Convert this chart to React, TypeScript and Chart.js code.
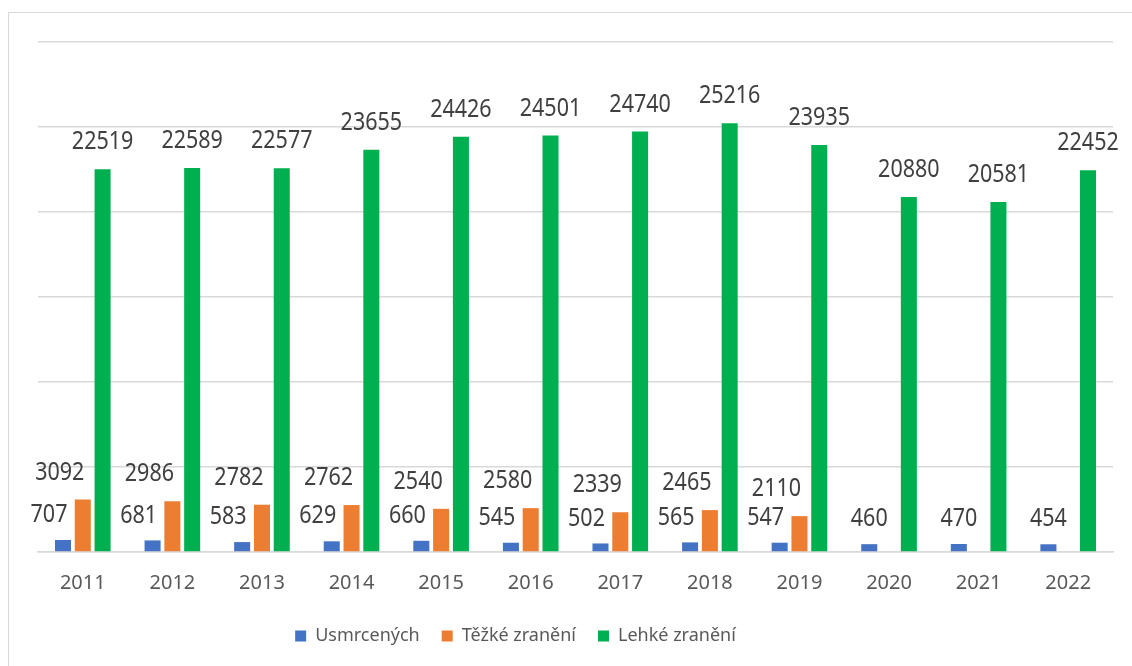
import React, { useEffect, useRef } from "react";
import { Chart, registerables } from "chart.js";

Chart.register(...registerables);

const years = ["2011", "2012", "2013", "2014", "2015", "2016", "2017", "2018", "2019", "2020", "2021", "2022"];
const usmrcenych = [707, 681, 583, 629, 660, 545, 502, 565, 547, 460, 470, 454];
const tezkeZraneni: (number | null)[] = [3092, 2986, 2782, 2762, 2540, 2580, 2339, 2465, 2110, null, null, null];
const lehkeZraneni = [22519, 22589, 22577, 23655, 24426, 24501, 24740, 25216, 23935, 20880, 20581, 22452];
const seriesNames = ["Usmrcených", "Těžké zranění", "Lehké zranění"];
const seriesColors = ["#4472C4", "#ED7D31", "#00B050"];

const FONT = '"Noto Sans", "Open Sans", sans-serif';

const valueLabels = {
  id: "valueLabels",
  afterDatasetsDraw(chart: any) {
    const ctx = chart.ctx;
    chart.data.datasets.forEach((ds: any, di: number) => {
      const meta = chart.getDatasetMeta(di);
      meta.data.forEach((el: any, i: number) => {
        const v = ds.data[i];
        if (v == null) return;
        let dx = 0;
        let dy = 27;
        if (di === 0) {
          dx = tezkeZraneni[i] == null ? 0 : -14;
          dy = 25;
        } else if (di === 1) {
          dx = -23;
          dy = 27;
        }
        ctx.save();
        ctx.translate(el.x + dx, el.y - dy);
        ctx.scale(0.86, 1);
        ctx.font = `25px ${FONT}`;
        ctx.fillStyle = "#404040";
        ctx.textAlign = "center";
        ctx.textBaseline = "middle";
        ctx.fillText(String(v), 0, 0);
        ctx.restore();
      });
    });
  },
};

const legendShift = {
  id: "legendShift",
  afterLayout(chart: any) {
    const lg = chart.legend;
    if (lg) {
      lg.left -= 60;
      lg.right -= 60;
    }
  },
};

export default function App() {
  const ref = useRef<HTMLCanvasElement>(null);
  useEffect(() => {
    if (!ref.current) return;
    const data = [usmrcenych, tezkeZraneni, lehkeZraneni];
    const chart = new Chart(ref.current, {
      type: "bar",
      data: {
        labels: years,
        datasets: data.map((d, i) => ({
          label: seriesNames[i],
          data: d as any,
          backgroundColor: seriesColors[i],
          borderWidth: 0,
          categoryPercentage: 0.663,
          barPercentage: 0.81,
        })),
      },
      options: {
        responsive: false,
        animation: false,
        layout: { padding: { top: 42, left: 38, right: 19, bottom: 11 } },
        plugins: {
          tooltip: { enabled: false },
          legend: {
            position: "bottom",
            labels: {
              font: { family: FONT, size: 18 },
              color: "#595959",
              boxWidth: 11,
              boxHeight: 11,
              padding: 22,
            },
          },
        },
        scales: {
          x: {
            grid: { display: false, drawTicks: false },
            border: { display: true, color: "#d9d9d9", width: 1.5 },
            ticks: { font: { family: FONT, size: 20 }, color: "#595959", padding: 19 },
            afterFit: (scale: any) => {
              scale.height = 53;
            },
          },
          y: {
            min: 0,
            max: 30000,
            ticks: { display: false, stepSize: 5000 },
            grid: { color: "#d9d9d9", lineWidth: 1.5, drawTicks: false },
            border: { display: false },
          },
        },
      },
      plugins: [valueLabels, legendShift],
    });
    return () => chart.destroy();
  }, []);
  return (
    <>
      <div
        style={{
          position: "fixed",
          left: 8,
          top: 12,
          width: 1140,
          height: 680,
          border: "1px solid #d9d9d9",
          boxSizing: "border-box",
        }}
      />
      <canvas
        ref={ref}
        width={1132}
        height={666}
        style={{ position: "fixed", left: 0, top: 0, width: 1132, height: 666 }}
      />
    </>
  );
}
